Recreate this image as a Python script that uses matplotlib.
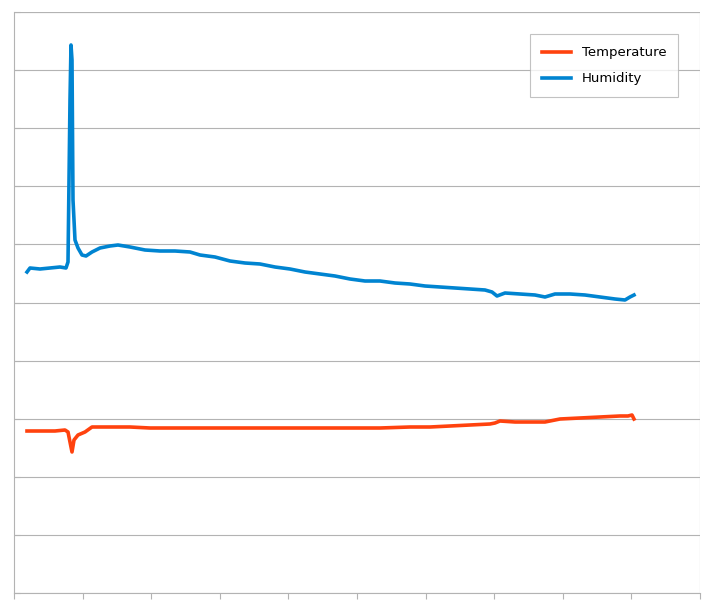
import matplotlib.pyplot as plt
import numpy as np

# readings in chart units (x: 0..686, y: 0..581, one grid step = 68.6 / 58.1)
hum_x = [13, 16, 26, 36, 46, 52, 54, 56, 57, 58, 59, 61, 64, 68, 72, 78, 86, 96, 104, 116,
         131, 146, 161, 176, 186, 201, 216, 231, 246, 261, 276, 291, 306, 321, 336, 351,
         366, 381, 396, 411, 426, 441, 456, 471, 478, 483, 491, 506, 521, 531, 541, 556,
         571, 586, 601, 611, 616, 620]
hum_y = [321, 325, 324, 325, 326, 325, 331, 493, 548, 533, 393, 353, 345, 338, 337, 341,
         345, 347, 348, 346, 343, 342, 342, 341, 338, 336, 332, 330, 329, 326, 324, 321,
         319, 317, 314, 312, 312, 310, 309, 307, 306, 305, 304, 303, 301, 297, 300, 299,
         298, 296, 299, 299, 298, 296, 294, 293, 296, 298]
tmp_x = [13, 26, 41, 51, 54, 56, 58, 60, 64, 71, 78, 96, 116, 136, 156, 186, 216, 246,
         276, 306, 336, 366, 396, 416, 436, 456, 476, 481, 486, 501, 516, 531, 546, 566,
         586, 606, 614, 618, 620]
tmp_y = [162, 162, 162, 163, 161, 151, 141, 153, 158, 161, 166, 166, 166, 165, 165, 165,
         165, 165, 165, 165, 165, 165, 166, 166, 167, 168, 169, 170, 172, 171, 171, 171,
         174, 175, 176, 177, 177, 178, 174]

fig = plt.figure(figsize=(7.15, 6.06), dpi=100)
ax = fig.add_axes([14 / 715, 13 / 606, 686 / 715, 581 / 606])

ax.plot(tmp_x, tmp_y, color='#ff420e', lw=2.6, label='Temperature')
ax.plot(hum_x, hum_y, color='#0084d1', lw=2.6, label='Humidity')

ax.set_xlim(0, 686)
ax.set_ylim(0, 581)
ax.set_xticks(np.arange(0, 687, 68.6))
ax.set_yticks(np.arange(0, 582, 58.1))
ax.set_xticklabels([])
ax.set_yticklabels([])
ax.grid(True, axis='y', color='#b3b3b3', lw=0.8)
ax.tick_params(axis='x', length=4, color='#b3b3b3', direction='out')
ax.tick_params(axis='y', length=4, color='#b3b3b3', direction='in')
for s in ['top', 'right']:
    ax.spines[s].set_visible(False)
ax.spines['left'].set_color('#b3b3b3')
ax.spines['bottom'].set_color('#b3b3b3')
ax.axhline(581, color='#b3b3b3', lw=0.8)
ax.axvline(686, color='#b3b3b3', lw=0.8)

leg = ax.legend(loc='upper right', bbox_to_anchor=(0.978, 0.973), fancybox=False,
                edgecolor='#b3b3b3', fontsize=9.5, handlelength=2.2, borderpad=0.9,
                labelspacing=1.0)
leg.get_frame().set_linewidth(0.8)

fig.savefig('out.png')
